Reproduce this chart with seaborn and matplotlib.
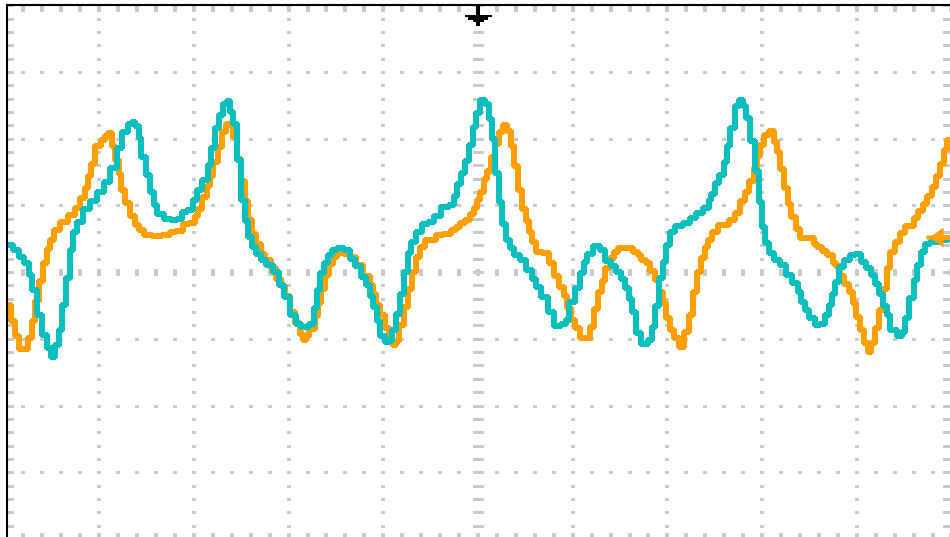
import numpy as np
import matplotlib
matplotlib.use("Agg")
import matplotlib.pyplot as plt
import seaborn as sns

# Time in divisions (10 div across), amplitude in divisions (8 div tall)
ch1_t = [0.05, 0.13, 0.18, 0.24, 0.28, 0.31, 0.37, 0.43, 0.47, 0.51, 0.55, 0.59, 0.62, 0.67, 0.71,
         0.74, 0.79, 0.87, 0.93, 1.03, 1.08, 1.15, 1.22, 1.27, 1.33, 1.36, 1.40, 1.43, 1.46, 1.52,
         1.56, 1.59, 1.64, 1.72, 1.80, 1.85, 1.90, 1.96, 2.01, 2.06, 2.12, 2.17, 2.20, 2.24, 2.28,
         2.33, 2.36, 2.40, 2.43, 2.47, 2.52, 2.56, 2.59, 2.63, 2.68, 2.73, 2.80, 2.87, 2.93, 2.98,
         3.05, 3.10, 3.17, 3.25, 3.28, 3.31, 3.35, 3.40, 3.44, 3.47, 3.56, 3.62, 3.67, 3.73, 3.79,
         3.84, 3.88, 3.91, 3.95, 3.99, 4.04, 4.07, 4.11, 4.16, 4.20, 4.24, 4.28, 4.31, 4.37, 4.44,
         4.51, 4.57, 4.65, 4.73, 4.76, 4.80, 4.84, 4.88, 4.93, 4.96, 5.00, 5.05, 5.10, 5.13, 5.16,
         5.20, 5.24, 5.27, 5.32, 5.36, 5.41, 5.48, 5.53, 5.60, 5.63, 5.71, 5.76, 5.85, 5.91, 5.94,
         5.99, 6.05, 6.10, 6.13, 6.18, 6.25, 6.32, 6.37, 6.43, 6.48, 6.53, 6.57, 6.61, 6.64, 6.69,
         6.76, 6.82, 6.85, 6.89, 6.93, 6.97, 7.01, 7.05, 7.11, 7.21, 7.27, 7.34, 7.42, 7.45, 7.48,
         7.52, 7.58, 7.61, 7.65, 7.68, 7.74, 7.77, 7.82, 7.85, 7.89, 7.95, 7.98, 8.01, 8.05, 8.10,
         8.16, 8.21, 8.29, 8.35, 8.40, 8.43, 8.47, 8.53, 8.59, 8.63, 8.69, 8.72, 8.75, 8.79, 8.84,
         8.90, 8.95, 9.01, 9.07, 9.12, 9.17, 9.21, 9.26, 9.30, 9.33, 9.38, 9.46, 9.49, 9.53, 9.58,
         9.62, 9.65, 9.70, 9.74, 9.80, 9.96]
ch1_v = [0.41, 0.33, 0.23, 0.14, -0.05, -0.27, -0.65, -0.95, -1.14, -1.28, -1.10, -0.87, -0.50, -0.09, 0.33,
         0.60, 0.75, 0.95, 1.07, 1.20, 1.35, 1.56, 1.86, 2.10, 2.22, 2.25, 2.19, 2.01, 1.73, 1.46,
         1.20, 1.01, 0.87, 0.80, 0.78, 0.80, 0.90, 0.93, 1.08, 1.23, 1.38, 1.61, 1.86, 2.16, 2.36,
         2.52, 2.57, 2.40, 2.22, 1.68, 1.08, 0.77, 0.53, 0.38, 0.27, 0.18, 0.11, 0.00, -0.20, -0.38,
         -0.65, -0.78, -0.83, -0.78, -0.54, -0.27, -0.02, 0.14, 0.26, 0.33, 0.36, 0.33, 0.20, 0.09, -0.08,
         -0.20, -0.36, -0.53, -0.74, -0.96, -1.05, -1.04, -0.87, -0.63, -0.33, 0.00, 0.29, 0.45, 0.60, 0.72,
         0.75, 0.84, 0.98, 1.01, 1.14, 1.32, 1.49, 1.67, 1.91, 2.18, 2.39, 2.58, 2.52, 2.30, 2.00,
         1.49, 1.05, 0.72, 0.48, 0.36, 0.26, 0.18, 0.03, -0.11, -0.23, -0.38, -0.60, -0.81, -0.78, -0.72,
         -0.45, -0.24, -0.02, 0.15, 0.27, 0.39, 0.33, 0.17, 0.09, 0.00, -0.11, -0.24, -0.41, -0.60, -0.92,
         -1.08, -1.02, -0.83, -0.51, -0.09, 0.15, 0.41, 0.60, 0.69, 0.74, 0.81, 0.89, 0.96, 1.08, 1.17,
         1.34, 1.46, 1.65, 1.89, 2.16, 2.49, 2.58, 2.49, 2.31, 1.97, 1.52, 1.05, 0.68, 0.44, 0.29,
         0.18, 0.11, -0.05, -0.17, -0.30, -0.45, -0.57, -0.69, -0.80, -0.78, -0.65, -0.50, -0.33, -0.15, 0.08,
         0.18, 0.26, 0.27, 0.15, 0.06, -0.05, -0.18, -0.33, -0.51, -0.65, -0.87, -0.96, -0.90, -0.69, -0.39,
         -0.12, 0.11, 0.30, 0.42, 0.45, 0.48]

ch2_t = [0.05, 0.09, 0.13, 0.18, 0.22, 0.27, 0.30, 0.34, 0.39, 0.43, 0.46, 0.50, 0.55, 0.63, 0.71,
         0.77, 0.82, 0.87, 0.90, 0.93, 0.99, 1.04, 1.08, 1.11, 1.15, 1.19, 1.22, 1.25, 1.30, 1.35,
         1.40, 1.45, 1.50, 1.61, 1.72, 1.77, 1.85, 1.91, 1.99, 2.03, 2.06, 2.12, 2.15, 2.19, 2.22,
         2.28, 2.31, 2.36, 2.40, 2.43, 2.48, 2.52, 2.55, 2.59, 2.63, 2.68, 2.73, 2.78, 2.84, 2.89,
         2.94, 2.98, 3.04, 3.09, 3.14, 3.17, 3.19, 3.25, 3.30, 3.33, 3.36, 3.41, 3.44, 3.49, 3.54,
         3.62, 3.68, 3.75, 3.83, 3.88, 3.91, 3.94, 3.99, 4.04, 4.09, 4.12, 4.14, 4.20, 4.24, 4.28,
         4.32, 4.37, 4.41, 4.46, 4.53, 4.58, 4.68, 4.74, 4.79, 4.84, 4.89, 4.94, 4.97, 5.00, 5.04,
         5.08, 5.12, 5.16, 5.20, 5.24, 5.29, 5.33, 5.37, 5.40, 5.44, 5.49, 5.52, 5.55, 5.59, 5.63,
         5.73, 5.78, 5.83, 5.89, 5.93, 5.96, 6.00, 6.05, 6.10, 6.16, 6.20, 6.25, 6.29, 6.33, 6.36,
         6.42, 6.45, 6.50, 6.61, 6.66, 6.71, 6.74, 6.80, 6.84, 6.89, 6.93, 6.97, 7.01, 7.05, 7.10,
         7.15, 7.21, 7.25, 7.29, 7.33, 7.38, 7.41, 7.45, 7.50, 7.56, 7.63, 7.68, 7.74, 7.79, 7.84,
         7.89, 7.93, 7.96, 8.00, 8.05, 8.10, 8.15, 8.17, 8.21, 8.25, 8.29, 8.33, 8.38, 8.42, 8.53,
         8.56, 8.61, 8.66, 8.72, 8.77, 8.80, 8.84, 8.90, 8.94, 8.97, 9.01, 9.06, 9.10, 9.14, 9.17,
         9.21, 9.26, 9.30, 9.33, 9.37, 9.43, 9.48, 9.53, 9.58, 9.62, 9.67, 9.72, 9.77, 9.82, 9.86,
         9.90, 9.94, 9.97]
ch2_v = [-0.50, -0.74, -0.96, -1.16, -1.16, -0.99, -0.74, -0.44, -0.14, 0.14, 0.35, 0.48, 0.63, 0.75, 0.86,
         0.96, 1.11, 1.26, 1.44, 1.62, 1.89, 1.98, 2.04, 2.09, 1.89, 1.68, 1.47, 1.23, 1.04, 0.84,
         0.71, 0.63, 0.56, 0.54, 0.56, 0.60, 0.62, 0.72, 0.74, 0.84, 0.95, 1.13, 1.29, 1.44, 1.65,
         1.88, 2.10, 2.22, 2.21, 2.03, 1.70, 1.37, 1.07, 0.78, 0.57, 0.42, 0.27, 0.18, 0.06, -0.11,
         -0.21, -0.36, -0.60, -0.77, -0.93, -1.02, -0.96, -0.86, -0.66, -0.47, -0.26, -0.05, 0.12, 0.23, 0.29,
         0.27, 0.23, 0.11, -0.06, -0.20, -0.33, -0.50, -0.65, -0.84, -1.02, -1.10, -1.04, -0.80, -0.53, -0.26,
         0.00, 0.23, 0.38, 0.48, 0.48, 0.56, 0.57, 0.63, 0.68, 0.74, 0.78, 0.87, 0.96, 1.08, 1.20,
         1.40, 1.52, 1.73, 1.92, 2.10, 2.21, 2.12, 1.89, 1.59, 1.23, 0.95, 0.77, 0.60, 0.45, 0.30,
         0.29, 0.14, -0.06, -0.23, -0.36, -0.54, -0.72, -0.84, -0.99, -0.99, -0.83, -0.56, -0.30, -0.14, 0.06,
         0.21, 0.30, 0.36, 0.36, 0.30, 0.26, 0.18, 0.14, 0.02, -0.12, -0.30, -0.47, -0.69, -0.87, -0.99,
         -1.13, -0.90, -0.65, -0.30, 0.00, 0.21, 0.38, 0.48, 0.60, 0.71, 0.71, 0.78, 0.89, 1.07, 1.20,
         1.37, 1.56, 1.74, 1.91, 2.06, 2.12, 1.95, 1.80, 1.55, 1.26, 1.02, 0.83, 0.65, 0.51, 0.51,
         0.42, 0.38, 0.32, 0.26, 0.14, 0.09, -0.06, -0.18, -0.30, -0.47, -0.68, -0.87, -1.07, -1.20, -1.07,
         -0.84, -0.57, -0.26, 0.06, 0.30, 0.45, 0.59, 0.69, 0.69, 0.81, 0.92, 1.02, 1.14, 1.28, 1.44,
         1.62, 1.83, 1.98]

trigger_time = 5.0
ch2_offset = 0.52

ch1_color = "#0cbfbf"
ch2_color = "#ffa000"
grid_color = "#cacaca"

sns.set_style("white")

fig = plt.figure(figsize=(9.5, 5.37), dpi=100)
# axes box: left border at 7 px, top at 5.3 px, 94.7 px per x division, 66.7 px per y division
ax = fig.add_axes([7 / 950, 1 - 538.9 / 537, 944 / 950, 533.6 / 537])
ax.set_xlim(0.026, 9.995)
ax.set_ylim(-4, 4)
ax.set_xticks([])
ax.set_yticks([])
ax.set_facecolor("white")

PX = 0.72  # points per pixel at 100 dpi


def rect(w, h):
    return [(-w / 2, -h / 2), (w / 2, -h / 2), (w / 2, h / 2), (-w / 2, h / 2)]


minor_x = np.arange(0, 50.5) / 5
minor_y = np.arange(-20, 20.5) / 5

# dotted graticule
for yv in range(-3, 4):
    if yv == 0:
        continue
    ax.plot(minor_x, np.full_like(minor_x, yv), ls="none", marker=rect(4, 3),
            ms=4 * PX, mew=0, color=grid_color, zorder=1)
for xv in range(1, 10):
    if xv == 5:
        continue
    ax.plot(np.full_like(minor_y, xv), minor_y, ls="none", marker=rect(4, 3),
            ms=4 * PX, mew=0, color=grid_color, zorder=1)

# centre axes with longer ticks
ax.plot(minor_x, np.zeros_like(minor_x), ls="none", marker=rect(4, 7),
        ms=7 * PX, mew=0, color=grid_color, zorder=1)
ax.plot(np.full_like(minor_y, 5.0), minor_y, ls="none", marker=rect(11, 3),
        ms=11 * PX, mew=0, color=grid_color, zorder=1)

# edge ticks
for yv in (4, -4):
    ax.plot(minor_x, np.full_like(minor_x, yv), ls="none", marker=rect(4, 13),
            ms=13 * PX, mew=0, color=grid_color, zorder=1)
for xv in (0, 10):
    ax.plot(np.full_like(minor_y, xv), minor_y, ls="none", marker=rect(17, 3),
            ms=17 * PX, mew=0, color=grid_color, zorder=1)

# traces
sns.lineplot(x=ch2_t, y=ch2_v, ax=ax, color=ch2_color, lw=2.9, drawstyle="steps-mid",
             estimator=None, errorbar=None, sort=False, antialiased=False, zorder=3)
sns.lineplot(x=ch1_t, y=ch1_v, ax=ax, color=ch1_color, lw=2.9, drawstyle="steps-mid",
             estimator=None, errorbar=None, sort=False, antialiased=False, zorder=4)

# trigger position marker at the top
trig = [(-2, -1.4), (2, -1.4), (2, -9.7), (13.5, -9.7), (13.5, -12), (9.7, -12), (9.7, -14.7),
        (5.5, -14.7), (5.5, -17), (2, -17), (2, -20.7), (-2, -20.7), (-2, -17), (-5.5, -17),
        (-5.5, -14.7), (-9.7, -14.7), (-9.7, -12), (-13.5, -12), (-13.5, -9.7), (-2, -9.7)]
ax.plot([trigger_time], [4.0], ls="none", marker=trig, ms=2 * 20.7 * PX, mew=0,
        color="black", clip_on=False, zorder=6)

# channel 2 level marker on the right edge
lvl = [(-25, 2), (-19, 2), (-8, 10), (-8, 2.5), (0, 2.5), (0, -2.5), (-8, -2.5), (-8, -10),
       (-19, -2), (-25, -2)]
ax.plot([1.0], [ch2_offset], ls="none", marker=lvl, ms=2 * 25 * PX, mew=0, color=ch2_color,
        transform=ax.get_yaxis_transform(), clip_on=False, zorder=6)

for side in ("right", "bottom"):
    ax.spines[side].set_visible(False)
for side in ("left", "top"):
    ax.spines[side].set_color("black")
    ax.spines[side].set_linewidth(1.5)
    ax.spines[side].set_zorder(5)

fig.savefig("out.png", dpi=100, facecolor="white")
